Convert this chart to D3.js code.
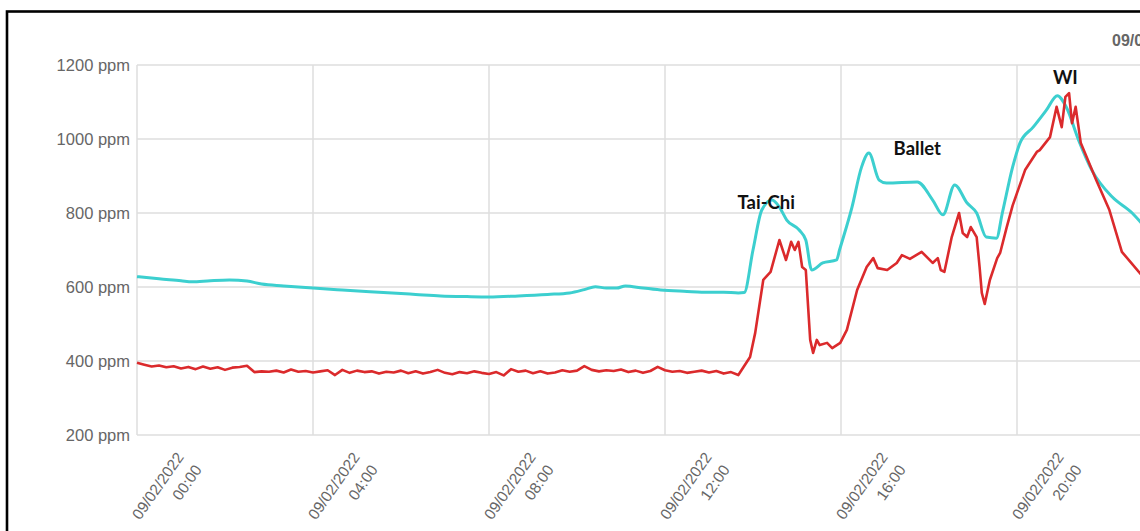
<!DOCTYPE html>
<meta charset="utf-8">
<html>
  <head>
    <style>
      body { margin: 0; background: #fff; }
      svg { display: block; }
    </style>
  </head>
  <body>
    <div id="chart"></div>
<script src="https://d3js.org/d3.v7.min.js"></script>
<script>
// CO2 readings for 09/02/2022, minutes after midnight -> ppm

var cyanMinutes = [0, 30, 60, 75, 100, 126, 150, 170, 200, 240, 280, 330, 380, 414, 450, 480, 520, 560, 590, 610, 625, 640, 654, 666, 690, 714, 750, 770, 800, 820, 828,
  840, 852, 866, 876, 886, 903, 912, 920, 935, 954, 958, 975, 988, 998, 1012, 1022, 1064, 1085, 1099, 1115, 1132, 1145, 1158, 1172,
  1180, 1194, 1204, 1222, 1240, 1255, 1267, 1284, 1302, 1330, 1357, 1370]
var cyanPpm = [628, 622, 617, 614, 617, 619, 616, 608, 603, 597, 592, 586, 580, 576, 574, 573, 576, 580, 584, 593, 601, 597, 597, 603, 597, 592, 588, 586, 586, 584, 585,
  700, 808, 835, 816, 781, 754, 727, 646, 665, 673, 700, 816, 924, 962, 889, 881, 884, 835, 795, 876, 827, 800, 735, 732,
  800, 924, 989, 1032, 1078, 1117, 1087, 997, 916, 843, 800, 772]

var redMinutes = [0, 10, 20, 30, 40, 50, 60, 70, 80, 90, 100, 110, 120, 130, 140, 150, 160, 170, 180, 190,
  200, 210, 220, 230, 240, 250, 260, 270, 280, 290, 300, 310, 320, 330, 340, 350, 360, 370, 380, 390,
  400, 410, 420, 430, 440, 450, 460, 470, 480, 490, 500, 510, 520, 530, 540, 550, 560, 570, 580, 590,
  600, 610, 620, 630, 640, 650, 660, 670, 680, 690, 700, 710, 720, 730, 740, 750, 760, 770, 780, 790,
  800, 810, 820,
  836, 843, 854, 864, 876, 885, 892, 897, 902, 907, 912, 918, 922, 927, 931, 941, 948, 959, 968, 982,
  995, 1004, 1010, 1023, 1036, 1043, 1054, 1070, 1085, 1092, 1096, 1101, 1111, 1121, 1126, 1132, 1137, 1145, 1149, 1152,
  1156, 1163, 1173, 1177, 1186, 1194, 1211, 1227, 1231, 1245, 1254, 1261, 1266, 1271, 1275, 1280, 1287, 1308, 1326, 1343, 1370]
var redPpm = [395, 390, 385, 388, 383, 386, 380, 384, 378, 385, 379, 383, 376, 382, 384, 387, 370, 372, 371, 374,
  369, 377, 371, 373, 369, 372, 375, 362, 376, 368, 374, 370, 372, 366, 371, 369, 374, 367, 372, 366,
  370, 376, 368, 364, 370, 367, 372, 368, 365, 370, 361, 378, 371, 374, 367, 372, 366, 369, 375, 371,
  374, 386, 376, 372, 375, 373, 377, 370, 374, 368, 373, 384, 375, 371, 373, 368, 371, 374, 369, 373,
  366, 370, 362,
  411, 476, 619, 641, 727, 673, 722, 700, 722, 654, 646, 457, 422, 457, 443, 449, 435, 449, 484, 592,
  654, 678, 651, 646, 665, 686, 676, 695, 665, 678, 646, 641, 735, 800, 746, 735, 762, 735, 654, 584,
  554, 619, 678, 692, 762, 820, 916, 965, 970, 1005, 1087, 1032, 1114, 1124, 1043, 1087, 989, 889, 808, 695, 632]

var yTicks = [200, 400, 600, 800, 1000, 1200]

var noteText = ["Tai-Chi", "Ballet", "WI"]
var noteMinutes = [858, 1064, 1266]
var notePpm = [811, 957, 1149]

var width = 1140, height = 531
var margin = {top: 65, left: 137}
var plotBottom = 435, plotRight = 1193

function at(m) { return new Date(2022, 8, 2, 0, m) }

var svg = d3.select("#chart").append("svg")
    .attr("width", width)
    .attr("height", height)

var x = d3.scaleTime()
    .domain([at(0), at(24 * 60)])
    .range([margin.left, plotRight])
var y = d3.scaleLinear()
    .domain([200, 1200])
    .range([plotBottom, margin.top])

// grid
svg.append("g")
  .selectAll("line")
  .data(yTicks)
  .join("line")
    .attr("x1", margin.left).attr("x2", plotRight)
    .attr("y1", d => y(d)).attr("y2", d => y(d))
    .attr("stroke", "#dedede").attr("stroke-width", 1.5)

// only the ticks that fall inside the window
var xTicks = x.ticks(d3.timeHour.every(4)).filter(d => x(d) < width)
svg.append("g")
  .selectAll("line")
  .data(xTicks)
  .join("line")
    .attr("x1", d => x(d)).attr("x2", d => x(d))
    .attr("y1", margin.top).attr("y2", plotBottom)
    .attr("stroke", "#dedede").attr("stroke-width", 1.5)

// y labels
svg.append("g")
  .selectAll("text")
  .data(yTicks)
  .join("text")
    .attr("x", 130)
    .attr("y", d => y(d))
    .attr("dy", "0.35em")
    .attr("text-anchor", "end")
    .style("font", "16.5px 'Liberation Sans', Arial, sans-serif")
    .style("fill", "#666")
    .text(d => d + " ppm")

// x labels, rotated two lines
var fmtDate = d3.timeFormat("%m/%d/%Y"), fmtTime = d3.timeFormat("%H:%M")
var xl = svg.append("g")
  .selectAll("g")
  .data(xTicks)
  .join("g")
    .attr("transform", d => "translate(" + (x(d) + 43) + ",454) rotate(-55)")
    .style("font", "15.5px 'Liberation Sans', Arial, sans-serif")
    .style("fill", "#666")
xl.append("text")
    .attr("text-anchor", "end")
    .attr("dy", "0.35em")
    .text(d => fmtDate(d))
xl.append("text")
    .attr("text-anchor", "end")
    .attr("y", 22)
    .attr("dy", "0.35em")
    .text(d => fmtTime(d))

// lines
var line = d3.line()
    .x(d => x(at(d[0])))
    .y(d => y(d[1]))

svg.append("path")
    .datum(d3.zip(cyanMinutes, cyanPpm))
    .attr("d", line.curve(d3.curveMonotoneX))
    .attr("fill", "none")
    .attr("stroke", "#3ccfcf")
    .attr("stroke-width", 3)
    .attr("stroke-linejoin", "round")

svg.append("path")
    .datum(d3.zip(redMinutes, redPpm))
    .attr("d", line.curve(d3.curveLinear))
    .attr("fill", "none")
    .attr("stroke", "#db2a2c")
    .attr("stroke-width", 2.6)
    .attr("stroke-linejoin", "round")

// annotations
svg.append("g")
  .selectAll("text")
  .data(d3.zip(noteText, noteMinutes, notePpm))
  .join("text")
    .attr("x", d => x(at(d[1])))
    .attr("y", d => y(d[2]))
    .attr("text-anchor", "middle")
    .style("font", "bold 18.5px Lato, 'Open Sans', sans-serif")
    .style("fill", "#111")
    .text(d => d[0])

// title (cut off at right edge, as in the source)
svg.append("text")
    .attr("x", 1112)
    .attr("y", 46)
    .style("font", "bold 16px 'Liberation Sans', Arial, sans-serif")
    .style("fill", "#666")
    .text("09/02/2022")

// frame
svg.append("rect")
    .attr("x", 7).attr("y", 11.5)
    .attr("width", 1200).attr("height", 600)
    .attr("fill", "none")
    .attr("stroke", "#000")
    .attr("stroke-width", 2.6)
</script>
  </body>
</html>
